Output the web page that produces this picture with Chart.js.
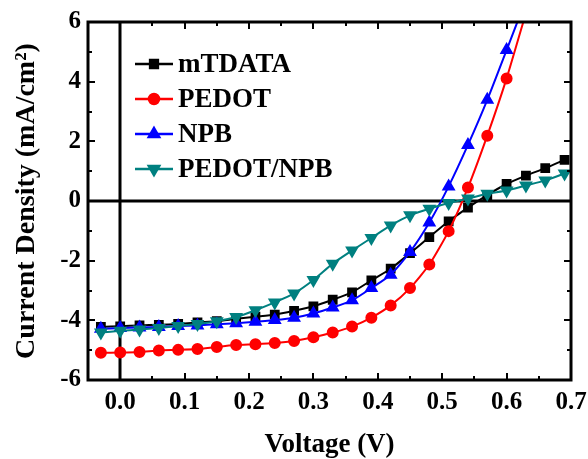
<!DOCTYPE html>
<html>
<head>
<meta charset="utf-8">
<script src="https://cdn.jsdelivr.net/npm/chart.js@4.4.0/dist/chart.umd.min.js"></script>
<style>
  html, body { margin: 0; padding: 0; background: #fff; }
  #wrap { width: 588px; height: 459px; }
</style>
</head>
<body>
<div id="wrap"><canvas id="jvChart" width="588" height="459"></canvas></div>
<script>
// J-V curves, voltage in V, current density in mA/cm2
const voltage = [-0.03, 0.00, 0.03, 0.06, 0.09, 0.12, 0.15, 0.18, 0.21, 0.24, 0.27, 0.30,
                 0.33, 0.36, 0.39, 0.42, 0.45, 0.48, 0.51, 0.54, 0.57, 0.60, 0.63, 0.66, 0.69];

const mTDATA = [-4.22, -4.20, -4.17, -4.15, -4.12, -4.07, -4.03, -3.95, -3.88, -3.81, -3.68, -3.53,
                -3.31, -3.06, -2.66, -2.27, -1.75, -1.21, -0.68, -0.22, 0.20, 0.57, 0.85, 1.10, 1.38];
const PEDOT = [-5.09, -5.08, -5.06, -5.01, -4.99, -4.96, -4.89, -4.83, -4.80, -4.76, -4.69, -4.57,
               -4.41, -4.21, -3.91, -3.50, -2.92, -2.13, -1.01, 0.45, 2.19, 4.11, 6.30];
const NPB = [-4.28, -4.26, -4.24, -4.22, -4.19, -4.17, -4.13, -4.10, -4.05, -3.99, -3.91, -3.77,
             -3.57, -3.33, -2.92, -2.47, -1.71, -0.72, 0.49, 1.88, 3.39, 5.06, 6.75];
const PEDOT_NPB = [-4.41, -4.35, -4.31, -4.26, -4.19, -4.12, -4.03, -3.89, -3.66, -3.40, -3.10, -2.65,
                   -2.10, -1.66, -1.24, -0.82, -0.48, -0.26, -0.07, 0.08, 0.24, 0.35, 0.52, 0.69, 0.92];

const seriesNames = ["mTDATA", "PEDOT", "NPB", "PEDOT/NPB"];
const seriesValues = [mTDATA, PEDOT, NPB, PEDOT_NPB];
const seriesColors = ["#000000", "#ff0000", "#0000ff", "#008080"];
const seriesMarkers = ["rect", "circle", "triangle", "triangle"];
const markerRotation = [0, 0, 0, 180];
const markerRadius = [5.5, 5, 6, 6];

const FONT = "'Liberation Serif', 'Times New Roman', serif";

function toPoints(values) {
    return values.map((y, i) => ({ x: voltage[i], y: y }));
}

function isMajorX(v) { return Math.abs(Math.round(v * 10) - v * 10) < 1e-6; }
function isMajorY(v) { return Math.abs(v % 2) < 1e-6; }

// frame, inward ticks and the zero lines
const framePlugin = {
    id: "frame",
    beforeDatasetsDraw(chart) {
        const ctx = chart.ctx;
        const xs = chart.scales.x, ys = chart.scales.y;
        const a = chart.chartArea;
        ctx.save();
        ctx.strokeStyle = "#000";
        ctx.lineWidth = 3;
        ctx.beginPath();
        const x0 = Math.round(xs.getPixelForValue(0));
        const y0 = Math.round(ys.getPixelForValue(0));
        ctx.moveTo(x0, a.top);
        ctx.lineTo(x0, a.bottom);
        ctx.moveTo(a.left, y0);
        ctx.lineTo(a.right, y0);
        ctx.stroke();
        ctx.restore();
    },
    afterDatasetsDraw(chart) {
        const ctx = chart.ctx;
        const xs = chart.scales.x, ys = chart.scales.y;
        const a = chart.chartArea;
        ctx.save();
        ctx.strokeStyle = "#000";
        ctx.lineWidth = 2;
        ctx.beginPath();
        xs.ticks.forEach(t => {
            const px = Math.round(xs.getPixelForValue(t.value));
            const len = isMajorX(t.value) ? 7 : 4;
            ctx.moveTo(px, a.bottom); ctx.lineTo(px, a.bottom - len);
            ctx.moveTo(px, a.top); ctx.lineTo(px, a.top + len);
        });
        ys.ticks.forEach(t => {
            const py = Math.round(ys.getPixelForValue(t.value));
            const len = isMajorY(t.value) ? 7 : 4;
            ctx.moveTo(a.left, py); ctx.lineTo(a.left + len, py);
            ctx.moveTo(a.right, py); ctx.lineTo(a.right - len, py);
        });
        ctx.stroke();
        ctx.lineWidth = 3;
        ctx.strokeRect(a.left, a.top, a.right - a.left, a.bottom - a.top);

        // legend inside the plot
        chart.data.datasets.forEach((ds, i) => {
            const y = 64 + i * 35;
            ctx.strokeStyle = ds.borderColor;
            ctx.lineWidth = 2.5;
            ctx.beginPath();
            ctx.moveTo(135, y); ctx.lineTo(173, y);
            ctx.stroke();
            ctx.fillStyle = ds.borderColor;
            Chart.helpers.drawPoint(ctx, {
                pointStyle: ds.pointStyle, rotation: ds.pointRotation,
                radius: ds.pointRadius, borderWidth: 1
            }, 154, y);
            ctx.fillStyle = "#000";
            ctx.font = "bold 27px " + FONT;
            ctx.textBaseline = "middle";
            ctx.textAlign = "left";
            ctx.fillText(ds.label, 178, y + 1);
        });
        ctx.restore();
    }
};

function createChart() {
    const datasets = seriesNames.map((name, i) => ({
        label: name,
        data: toPoints(seriesValues[i]),
        borderColor: seriesColors[i],
        backgroundColor: seriesColors[i],
        pointBackgroundColor: seriesColors[i],
        pointBorderColor: seriesColors[i],
        pointStyle: seriesMarkers[i],
        pointRotation: markerRotation[i],
        pointRadius: markerRadius[i],
        borderWidth: 2,
        showLine: true,
        tension: 0.2,
        order: seriesNames.length - i
    }));

    const context = document.getElementById("jvChart").getContext("2d");
    new Chart(context, {
        type: "scatter",
        data: { datasets: datasets },
        options: {
            responsive: false,
            animation: false,
            layout: { padding: { top: 21, right: 17, left: 0, bottom: 0 } },
            plugins: { legend: { display: false }, tooltip: { enabled: false } },
            scales: {
                x: {
                    type: "linear",
                    min: -0.05, max: 0.7,
                    afterFit(scale) {
                        scale.height = 79;
                        scale.paddingRight = 0;
                        scale.paddingLeft = 0;
                    },
                    grid: { display: false, drawTicks: false },
                    border: { display: false },
                    ticks: {
                        stepSize: 0.05, autoSkip: false, maxRotation: 0, padding: 8,
                        color: "#000", font: { family: FONT, size: 25, weight: "bold" },
                        callback: v => isMajorX(v) && v > -0.01 ? v.toFixed(1) : ""
                    },
                    title: {
                        display: true, text: "Voltage (V)", color: "#000",
                        font: { family: FONT, size: 27, weight: "bold", lineHeight: 1 },
                        padding: 0
                    }
                },
                y: {
                    type: "linear",
                    min: -6, max: 6,
                    afterFit(scale) { scale.width = 88; },
                    grid: { display: false, drawTicks: false },
                    border: { display: false },
                    ticks: {
                        stepSize: 1, autoSkip: false, padding: 7,
                        color: "#000", font: { family: FONT, size: 25, weight: "bold" },
                        callback: v => isMajorY(v) ? String(v) : ""
                    },
                    title: {
                        display: true, text: "Current Density (mA/cm\u00B2)", color: "#000",
                        font: { family: FONT, size: 28, weight: "bold", lineHeight: 1 },
                        padding: 13
                    }
                }
            }
        },
        plugins: [framePlugin]
    });
}

window.onload = createChart;
</script>
</body>
</html>
